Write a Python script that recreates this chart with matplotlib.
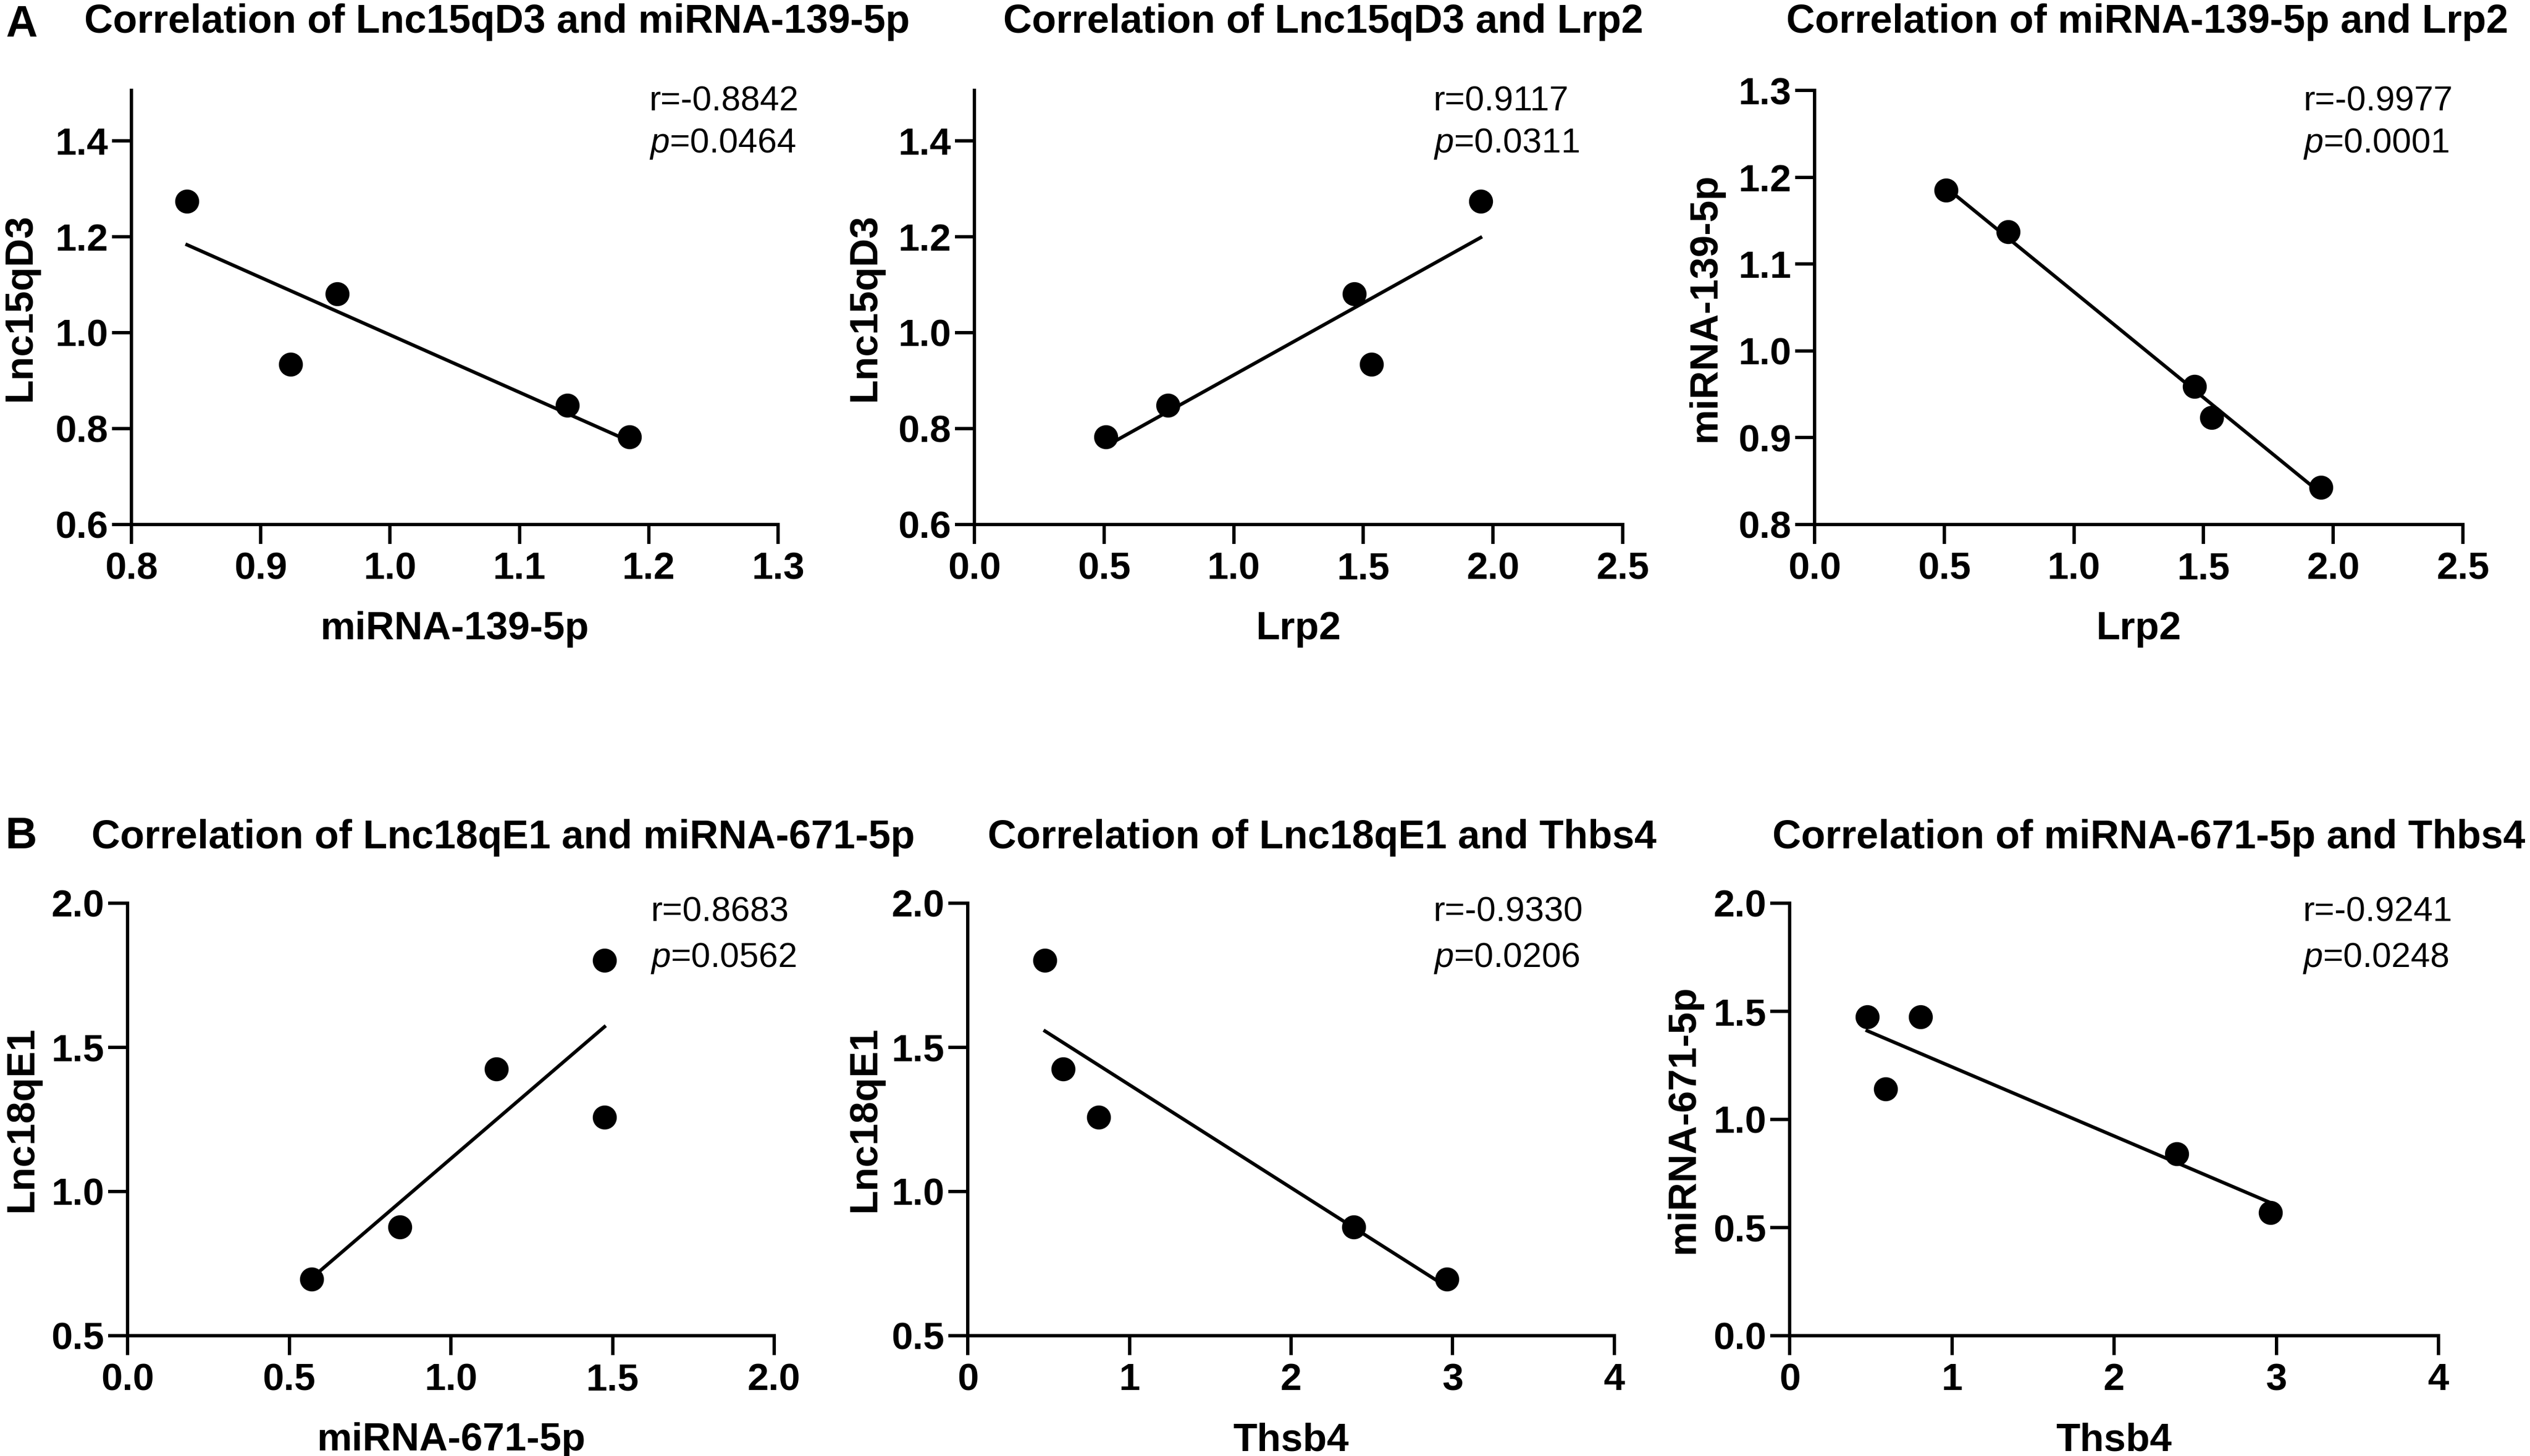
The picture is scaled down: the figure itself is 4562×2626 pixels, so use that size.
import numpy as np
import matplotlib
matplotlib.use('Agg')
import matplotlib.pyplot as plt
from matplotlib.ticker import FormatStrFormatter

plt.rcParams['font.family'] = ['Liberation Sans', 'DejaVu Sans']
plt.rcParams['mathtext.fontset'] = 'custom'
plt.rcParams['mathtext.it'] = 'Liberation Sans:italic'
plt.rcParams['mathtext.rm'] = 'Liberation Sans'

W, H = 4562, 2626

# panel A, one value per sample
lnc15qd3 = [1.274, 0.934, 1.081, 0.848, 0.783]
mir139 = [0.843, 0.923, 0.959, 1.137, 1.185]
lrp2 = [1.952, 1.531, 1.465, 0.747, 0.507]

# panel B, one value per sample
lnc18qe1 = [1.801, 1.425, 1.257, 0.876, 0.696]
mir671 = [1.475, 1.141, 1.475, 0.842, 0.570]
thbs4 = [0.478, 0.590, 0.808, 2.387, 2.965]

r_values = ['-0.8842', '0.9117', '-0.9977', '0.8683', '-0.9330', '-0.9241']
p_values = ['0.0464', '0.0311', '0.0001', '0.0562', '0.0206', '0.0248']

titles = ['Correlation of Lnc15qD3 and miRNA-139-5p',
          'Correlation of Lnc15qD3 and Lrp2',
          'Correlation of miRNA-139-5p and Lrp2',
          'Correlation of Lnc18qE1 and miRNA-671-5p',
          'Correlation of Lnc18qE1 and Thbs4',
          'Correlation of miRNA-671-5p and Thbs4']

# (x, y, xlabel, ylabel, xticks, xfmt, yticks, ylim top)
panels = [
    (mir139, lnc15qd3, 'miRNA-139-5p', 'Lnc15qD3', np.arange(0.8, 1.31, 0.1), '%.1f', np.arange(0.6, 1.41, 0.2), 1.505),
    (lrp2, lnc15qd3, 'Lrp2', 'Lnc15qD3', np.arange(0, 2.51, 0.5), '%.1f', np.arange(0.6, 1.41, 0.2), 1.505),
    (lrp2, mir139, 'Lrp2', 'miRNA-139-5p', np.arange(0, 2.51, 0.5), '%.1f', np.arange(0.8, 1.31, 0.1), 1.3),
    (mir671, lnc18qe1, 'miRNA-671-5p', 'Lnc18qE1', np.arange(0, 2.01, 0.5), '%.1f', np.arange(0.5, 2.01, 0.5), 2.0),
    (thbs4, lnc18qe1, 'Thsb4', 'Lnc18qE1', np.arange(0, 4.1, 1), '%d', np.arange(0.5, 2.01, 0.5), 2.0),
    (thbs4, mir671, 'Thsb4', 'miRNA-671-5p', np.arange(0, 4.1, 1), '%d', np.arange(0, 2.01, 0.5), 2.0),
]

# axes boxes in pixels: left, right, top, bottom
boxes_px = [
    (237, 1403, 163, 946),
    (1757, 2926, 163, 946),
    (3272, 4441, 163, 946),
    (230, 1396, 1629, 2409),
    (1745, 2911, 1629, 2409),
    (3227, 4397, 1629, 2409),
]
# right edge of the rotated y label, pixels
ylabel_px = [70, 1593, 3108, 73, 1593, 3069]
# title centre x and baseline y, pixels
title_px = [(896, 59), (2386, 59), (3872, 59), (907, 1530), (2384, 1530), (3875, 1530)]
text_x = [0.801, 0.708, 0.754, 0.809, 0.720, 0.791]
text_y = [(0.953, 0.857)] * 3 + [(0.958, 0.852)] * 3

fig = plt.figure(figsize=(W / 300, H / 300), dpi=300)

for i, (x, y, xl, yl, xt, xf, yt, ytop) in enumerate(panels):
    l, r, t, b = boxes_px[i]
    ax = fig.add_axes([l / W, 1 - b / H, (r - l) / W, (b - t) / H])
    ax.plot(x, y, 'o', color='black', markersize=9.4, zorder=3, clip_on=False)

    # linear regression line over the data range
    k, c = np.polyfit(x, y, 1)
    xs = np.array([min(x), max(x)])
    ax.plot(xs, k * xs + c, color='black', linewidth=1.5)

    ax.set_xlim(xt[0], xt[-1])
    ax.set_ylim(yt[0], ytop)
    ax.set_xticks(xt)
    ax.set_yticks(yt)
    ax.xaxis.set_major_formatter(FormatStrFormatter(xf))
    ax.yaxis.set_major_formatter(FormatStrFormatter('%.1f'))

    for s in ['top', 'right']:
        ax.spines[s].set_visible(False)
    for s in ['left', 'bottom']:
        ax.spines[s].set_linewidth(1.45)
    ax.tick_params(width=1.45, length=8.4, labelsize=16.5, direction='out')
    ax.tick_params(axis='y', pad=1.7)
    ax.tick_params(axis='x', pad=3.2)
    for lab in ax.get_xticklabels() + ax.get_yticklabels():
        lab.set_fontweight('bold')

    ax.set_xlabel(xl, fontsize=17, fontweight='bold', labelpad=10.5)
    ax.set_ylabel(yl, fontsize=17, fontweight='bold')
    ax.yaxis.set_label_coords((ylabel_px[i] - l) / (r - l), 0.5)

    ty1, ty2 = text_y[i]
    ax.text(text_x[i], ty1, 'r=' + r_values[i], transform=ax.transAxes,
            fontsize=15, ha='left', va='baseline')
    ax.text(text_x[i], ty2, r'$\mathit{p}$=' + p_values[i], transform=ax.transAxes,
            fontsize=15, ha='left', va='baseline')

    tx, tb = title_px[i]
    fig.text(tx / W, 1 - tb / H, titles[i], fontsize=17.2, fontweight='bold',
             ha='center', va='baseline')

fig.text(10 / W, 1 - 66 / H, 'A', fontsize=19, fontweight='bold', ha='left', va='baseline')
fig.text(10 / W, 1 - 1530 / H, 'B', fontsize=19, fontweight='bold', ha='left', va='baseline')

fig.savefig('out.png', dpi=300)
